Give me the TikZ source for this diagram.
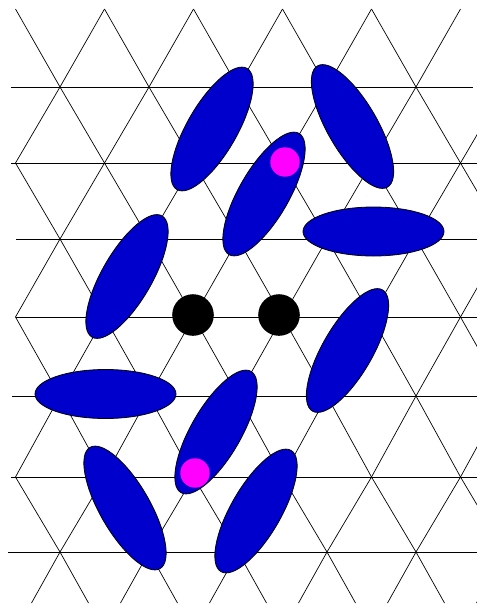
\documentclass[tikz,border=0pt]{standalone}
\usetikzlibrary{shapes.geometric}
\definecolor{dimerblue}{RGB}{0,0,205}
\definecolor{monomer}{RGB}{255,0,255}
\tikzset{
  latline/.style={black, line width=0.7pt},
  dimer/.style={ellipse, draw=black, line width=0.8pt, fill=dimerblue,
    minimum width=140pt, minimum height=50pt, inner sep=0pt, outer sep=0pt},
  vacancy/.style={circle, fill=black, minimum size=41.6pt, inner sep=0pt},
  spinon/.style={circle, fill=monomer, minimum size=29.4pt, inner sep=0pt}
}
\begin{document}
\begin{tikzpicture}[x=1pt, y=-1pt]
\useasboundingbox (0,0) rectangle (477,606);
\begin{scope}
\clip (0,0) rectangle (477,606);
% horizontal lattice lines
\foreach \y/\xa/\xb in {87/11/473, 163/11/477, 239/16/477, 317/16/477, 396/12/477, 477/11/477, 552/8/477}
  \draw[latline] (\xa,\y) -- (\xb,\y);
% top half row
\foreach \xe in {60,149,238,327,416}
  \draw[latline] ({\xe-44.5},9) -- (\xe,87) -- ({\xe+44.5},9);
% inner rows
\foreach \ye/\yo in {87/163, 239/163, 239/317, 396/317, 396/477, 552/477}
  \foreach \xe in {60,149,238,327,416,505}
    \draw[latline] ({\xe-44.5},\yo) -- (\xe,\ye) -- ({\xe+44.5},\yo);
% bottom half row
\foreach \xe in {60,149,238,327,416,505}
  \draw[latline] ({\xe-28.5},603) -- (\xe,552) -- ({\xe+28.5},603);
\end{scope}
% dimers
\node[dimer, rotate=60]  (e1)  at (212,129)   {};
\node[dimer, rotate=-60] (e2)  at (352.5,126.5) {};
\node[dimer, rotate=60]  (e3)  at (264,194)   {};
\node[dimer, minimum width=141pt, minimum height=49pt] (e4) at (373.5,231.5) {};
\node[dimer, rotate=60]  (e5)  at (127,276.5) {};
\node[dimer, rotate=60]  (e6)  at (347.5,350.5) {};
\node[dimer, minimum width=141pt, minimum height=49pt] (e7) at (105.5,394) {};
\node[dimer, rotate=60]  (e8)  at (216,432)   {};
\node[dimer, rotate=-60] (e9)  at (125,508)   {};
\node[dimer, rotate=60]  (e10) at (256,511)   {};
% monomers
\node[spinon] (m1) at (285,162) {};
\node[spinon] (m2) at (195,473) {};
% vacancies
\node[vacancy] (v1) at (193,315) {};
\node[vacancy] (v2) at (279,315) {};
\end{tikzpicture}
\end{document}
